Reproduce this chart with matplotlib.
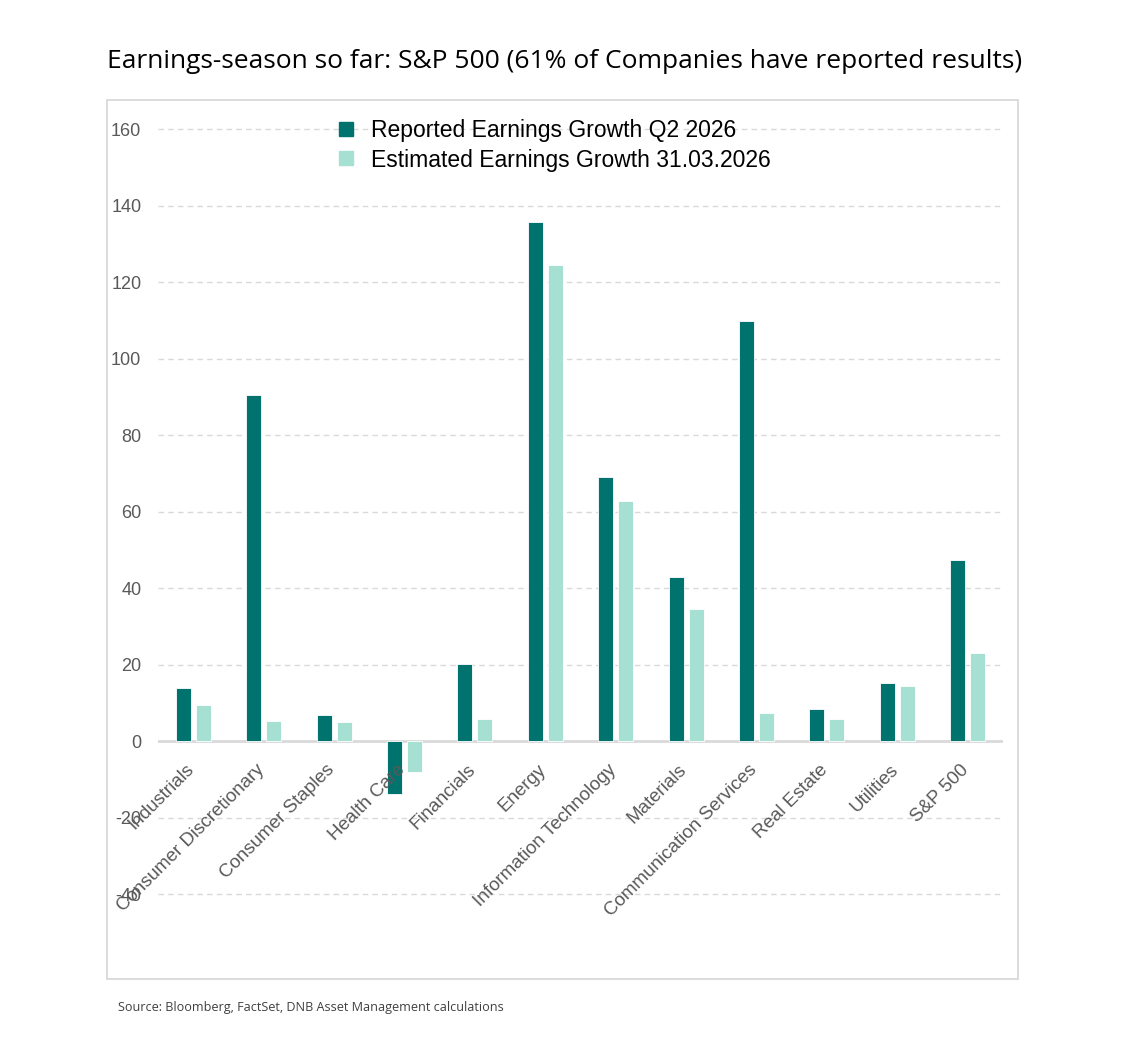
import numpy as np
import matplotlib
matplotlib.use("Agg")
import matplotlib.pyplot as plt
from matplotlib.patches import Rectangle
from matplotlib.lines import Line2D
import matplotlib.transforms as mtransforms

# data
sectors = ['Industrials', 'Consumer Discretionary', 'Consumer Staples', 'Health Care',
           'Financials', 'Energy', 'Information Technology', 'Materials',
           'Communication Services', 'Real Estate', 'Utilities', 'S&P 500']
reported = [13.9, 90.5, 6.8, -13.9, 20.1, 135.7, 69.0, 42.9, 109.8, 8.4, 15.2, 47.3]
estimated = [9.4, 5.2, 5.0, -8.1, 5.8, 124.4, 62.7, 34.5, 7.3, 5.8, 14.4, 23.0]
yticks = [-40, -20, 0, 20, 40, 60, 80, 100, 120, 140, 160]

title = 'Earnings-season so far: S&P 500 (61% of Companies have reported results)'
lab_rep = 'Reported Earnings Growth Q2 2026'
lab_est = 'Estimated Earnings Growth 31.03.2026'
source = 'Source: Bloomberg, FactSet, DNB Asset Management calculations'

dark = '#00736e'
light = '#a6e0d2'
grey_txt = '#595959'
grid_col = '#d9d9d9'
narrow = ['Liberation Sans', 'DejaVu Sans']

fig = plt.figure(figsize=(11.45, 10.38), dpi=100)
W, H = 1145, 1038

# outer chart frame
fig.patches.append(Rectangle((107/W, 1-979/H), 911/W, 879/H, transform=fig.transFigure,
                             fill=False, edgecolor=grid_col, lw=1.3, zorder=0))

ax = fig.add_axes([158/W, 1-979/H, 845/W, 879/H])
x = np.arange(len(sectors))
bw = 0.213
off = 0.142
ax.bar(x-off, reported, width=bw, color=dark, edgecolor='white', lw=0.6, zorder=3, label=lab_rep)
ax.bar(x+off, estimated, width=bw, color=light, edgecolor='white', lw=0.6, zorder=3, label=lab_est)

ax.set_xlim(-0.5, len(sectors)-0.5)
ax.set_ylim(-62.2, 167.6)
for s in ax.spines.values():
    s.set_visible(False)
for t in yticks:
    if t == 0:
        ax.axhline(0, color=grid_col, lw=2, zorder=2)
    else:
        ax.axhline(t, color=grid_col, lw=1, ls=(0, (4, 3)), zorder=1)

ax.set_yticks(yticks)
ax.set_yticklabels([str(t) for t in yticks], family=narrow, fontsize=13, color=grey_txt)
ax.tick_params(axis='y', length=0, pad=12)
ax.set_xticks([])

# category labels hang from the zero line, rotated like Excel does
offset = mtransforms.offset_copy(ax.transData, fig=fig, x=-2, y=-26, units='dots')
for i, name in enumerate(sectors):
    ax.text(i, 0, name, transform=offset, rotation=45, rotation_mode='anchor',
            ha='right', va='center', family=narrow, fontsize=13.5, color=grey_txt, zorder=4)

handles = [Line2D([], [], marker='s', ls='', ms=10, color=dark),
           Line2D([], [], marker='s', ls='', ms=10, color=light)]
leg = fig.legend(handles, [lab_rep, lab_est], loc='upper left', bbox_to_anchor=(314/W, 1-98/H),
                 frameon=False, handlelength=1.0, handletextpad=0.6, labelspacing=0.3,
                 prop={'family': narrow, 'size': 16.5})

fig.text(565/W, 1-61/H, title, ha='center', va='center', fontsize=19, family='Open Sans', color='black')
fig.text(118/W, 1-1007/H, source, ha='left', va='center', fontsize=9.1, family='Open Sans', color='#404040')

fig.savefig('out.png', dpi=100)
